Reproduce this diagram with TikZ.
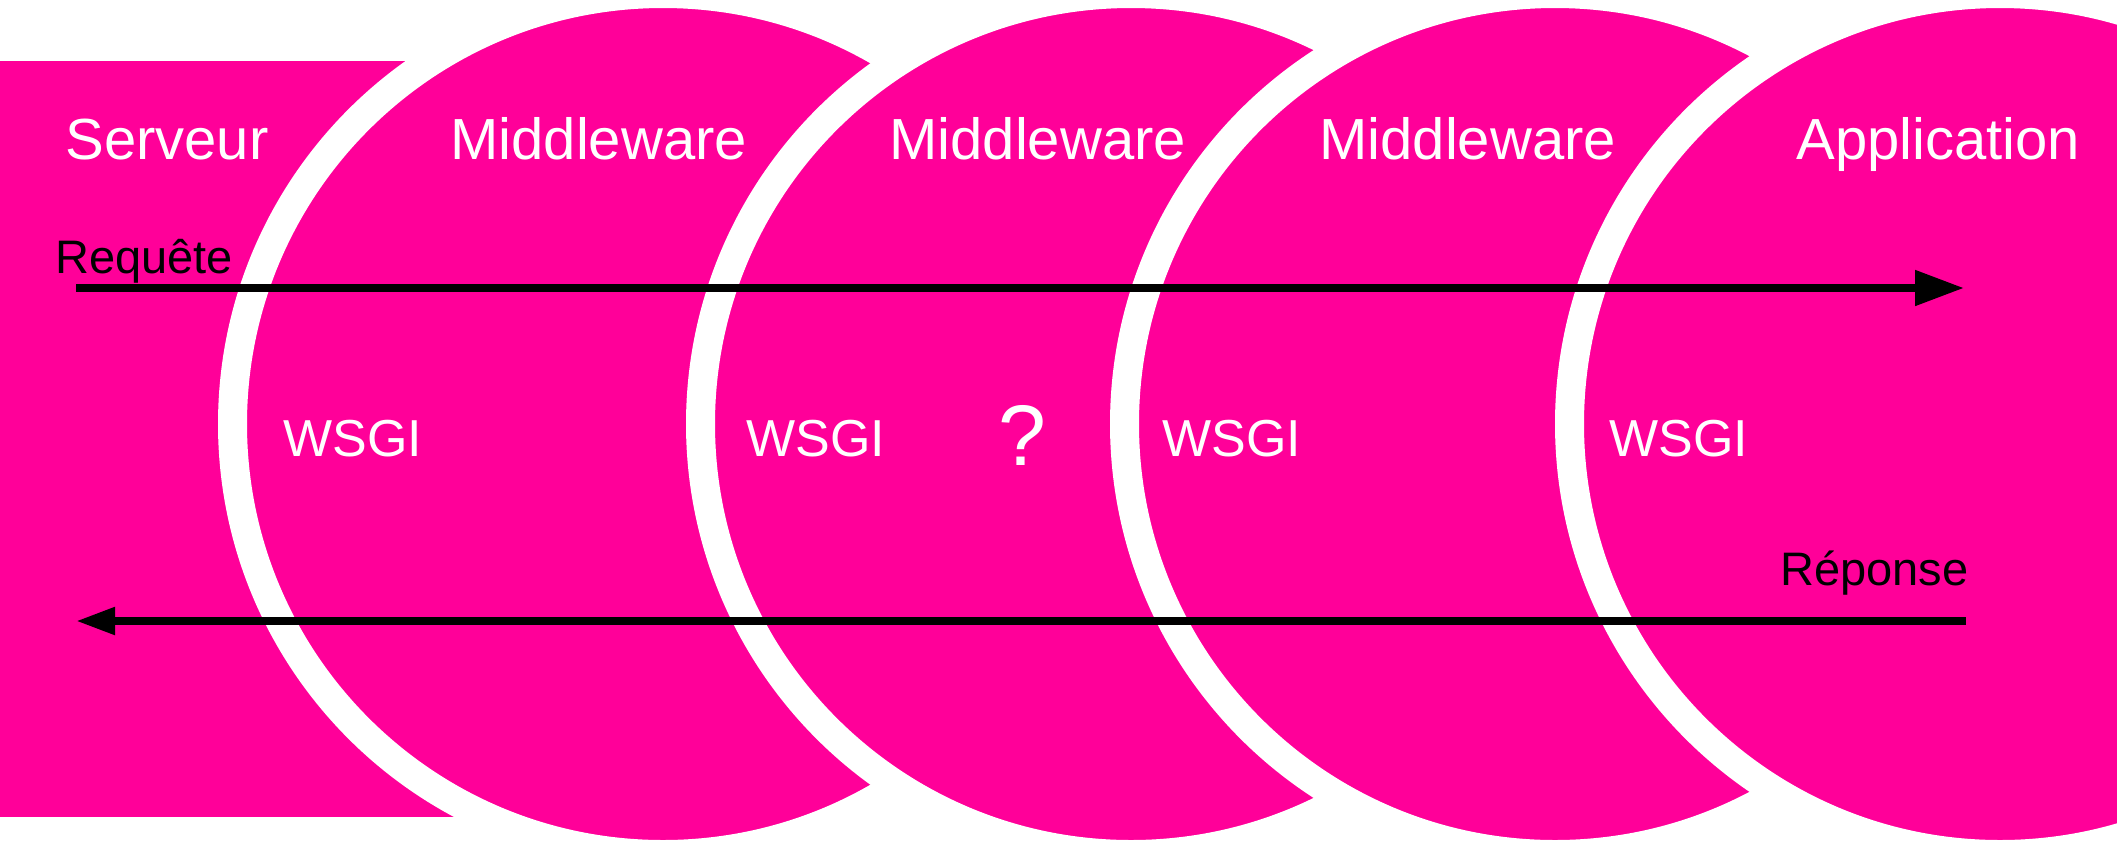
\documentclass[tikz,border=0pt]{standalone}
\usepackage{fontspec}
\setmainfont{Liberation Sans}
\definecolor{wsgipink}{RGB}{255,0,153}
\usetikzlibrary{arrows.meta}
\tikzset{
  disc/.style={fill=wsgipink, draw=white, line width=14.5pt},
  title/.style={text=white, inner sep=0pt, font=\fontsize{29}{29}\selectfont},
  iface/.style={text=white, inner sep=0pt, font=\fontsize{26}{26}\selectfont},
  flow/.style={text=black, inner sep=0pt, font=\fontsize{23.5}{23.5}\selectfont},
}

\begin{document}
\begin{tikzpicture}[x=0.5pt, y=-0.5pt, line join=round]
	\useasboundingbox (0,0) rectangle (2117,843);
	\clip (0,0) rectangle (2117,843);
	% serveur and the layers
	\fill [wsgipink] (-20,61) rectangle (663,817);
	\draw [disc] (663,424) circle [radius=215.25pt];
	\draw [disc] (1131,424) circle [radius=215.25pt];
	\draw [disc] (1555,424) circle [radius=215.25pt];
	\draw [disc] (2000,424) circle [radius=215.25pt];
	% names
	\node [title, anchor=base west] (serveur) at (65,159) {Serveur};
	\node [title, anchor=base west] (mw1) at (450,159) {Middleware};
	\node [title, anchor=base west] (mw2) at (889,159) {Middleware};
	\node [title, anchor=base west] (mw3) at (1319,159) {Middleware};
	\node [title, anchor=base west] (appli) at (1796,159) {Application};
	% interfaces
	\node [iface, anchor=base west] (wsgi1) at (283,456) {WSGI};
	\node [iface, anchor=base west] (wsgi2) at (746,456) {WSGI};
	\node [iface, anchor=base west] (wsgi3) at (1162,456) {WSGI};
	\node [iface, anchor=base west] (wsgi4) at (1609,456) {WSGI};
	\node [text=white, inner sep=0pt, font=\fontsize{43}{43}\selectfont, anchor=base] (quoi) at (1022,465) {?};
	% requete / reponse
	\node [flow, anchor=base west] (req) at (55,273) {Requête};
	\node [flow, anchor=base east] (rep) at (1969,585) {Réponse};
	\coordinate (reqstart) at (76,288);
	\coordinate (reqend) at (1964,288);
	\coordinate (repstart) at (1966,621);
	\coordinate (repend) at (76,621);
	\draw [line width=4pt, -{Triangle[length=24.5pt, width=17pt]}] (reqstart) -- (reqend);
	\draw [line width=4pt, -{Triangle[length=19.5pt, width=13pt]}] (repstart) -- (repend);
\end{tikzpicture}
\end{document}
